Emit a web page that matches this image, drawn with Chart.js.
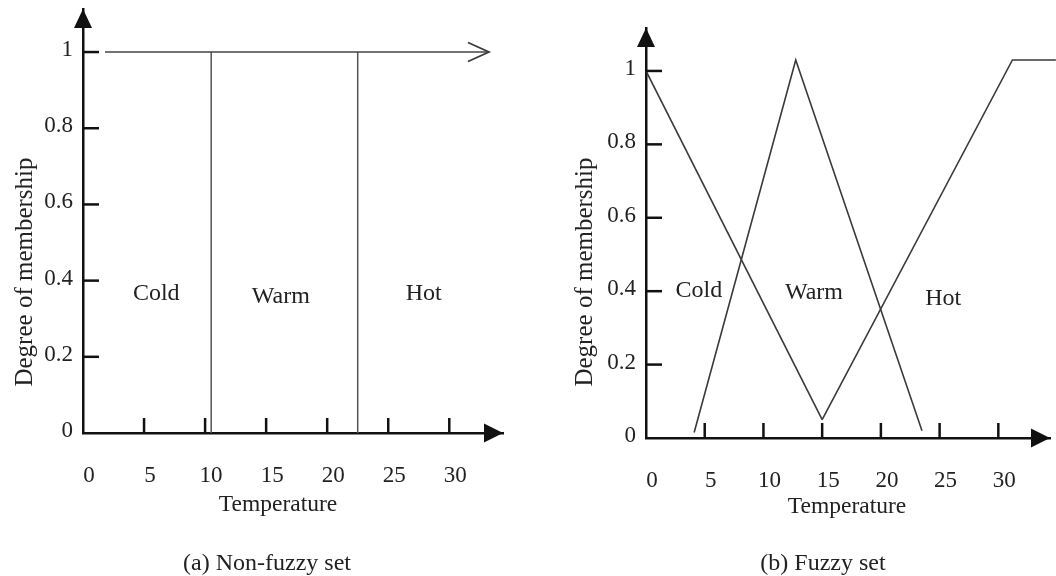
<!DOCTYPE html>
<html><head><meta charset="utf-8">
<script src="https://cdn.jsdelivr.net/npm/chart.js@4"></script>
<style>
html,body{margin:0;padding:0;background:#fff;}
#wrap{position:relative;width:1056px;height:576px;overflow:hidden;background:#fff;}
.box{position:absolute;top:0;width:528px;height:576px;}
#boxA{left:0}#boxB{left:528px}
.cap{position:absolute;top:548px;font-family:"Liberation Serif",serif;font-size:24px;line-height:28px;color:#222;white-space:nowrap;transform:translateX(-50%);}
</style></head>
<body><div id="wrap">
<div class="box" id="boxA"><canvas id="cA" width="528" height="576"></canvas></div>
<div class="box" id="boxB"><canvas id="cB" width="528" height="576"></canvas></div>
<div class="cap" style="left:267px">(a) Non-fuzzy set</div>
<div class="cap" style="left:823px">(b) Fuzzy set</div>
</div>
<script>
// ---- data ----
const xTickValues = [0, 5, 10, 15, 20, 25, 30];
const yTickValues = [0, 0.2, 0.4, 0.6, 0.8, 1];
const categories = ['Cold', 'Warm', 'Hot'];
const xTitle = 'Temperature';
const yTitle = 'Degree of membership';

// (a) non-fuzzy set
const crispTopX = [1.8, 33.25];
const crispTopY = [1, 1];
const crispBoundaryX = [10.5, 22.5];
const crispBoundaryY = [0, 1];
const crispLabelX = [6.0, 16.2, 27.9];
const crispLabelY = [0.365, 0.357, 0.365];

// (b) fuzzy set
const coldX = [0, 15.0];
const coldY = [1.0, 0.05];
const warmX = [4.1, 12.75, 23.5];
const warmY = [0.015, 1.03, 0.02];
const hotX = [15.0, 31.2, 34.9];
const hotY = [0.05, 1.03, 1.03];
const fuzzyLabelX = [4.5, 14.3, 25.3];
const fuzzyLabelY = [0.40, 0.395, 0.38];

const pts = (xs, ys) => xs.map((x, i) => ({x: x, y: ys[i]}));
const SERIF = '"Liberation Serif", "Times New Roman", serif';
const TXT = '#222';
const LINE = '#3a3a3a';

function lineDs(data, opts) {
  return Object.assign({data: data, showLine: true, pointRadius: 0, borderColor: LINE,
    borderWidth: 1.6, fill: false, tension: 0}, opts || {});
}

function scales(o) {
  return {
    x: {
      type: 'linear', min: 0, max: o.xMax,
      afterBuildTicks: s => { s.ticks = xTickValues.map(v => ({value: v})); },
      afterFit: s => { s.height = o.xH; s.paddingLeft = 0; s.paddingRight = 0; },
      grid: {display: true, drawOnChartArea: false, drawTicks: false},
      border: {display: true, color: '#111', width: 2.5},
      ticks: {font: {family: SERIF, size: 23}, color: TXT, padding: o.xPad, labelOffset: 6,
        maxRotation: 0, autoSkip: false, callback: v => String(v)}
    },
    y: {
      type: 'linear', min: 0, max: o.yMax,
      afterBuildTicks: s => { s.ticks = yTickValues.map(v => ({value: v})); },
      afterFit: s => { s.width = o.yW; s.paddingTop = 0; s.paddingBottom = 0; },
      grid: {display: true, drawOnChartArea: false, drawTicks: false},
      border: {display: true, color: '#111', width: 2.5},
      ticks: {font: {family: SERIF, size: 23}, color: TXT, padding: 10, labelOffset: -2,
        autoSkip: false, callback: v => String(v)}
    }
  };
}

const decor = {
  id: 'decor',
  afterDraw(chart, args, o) {
    const ctx = chart.ctx, a = chart.chartArea;
    const xs = chart.scales.x, ys = chart.scales.y;
    const x0 = xs.getPixelForValue(0), y0 = ys.getPixelForValue(0);
    ctx.save();
    // inward tick marks
    ctx.strokeStyle = '#111'; ctx.lineWidth = 2.5; ctx.lineCap = 'butt';
    xTickValues.forEach(v => {
      if (v === 0) return;
      const px = xs.getPixelForValue(v);
      ctx.beginPath(); ctx.moveTo(px, y0); ctx.lineTo(px, y0 - 15); ctx.stroke();
    });
    yTickValues.forEach(v => {
      if (v === 0) return;
      const py = ys.getPixelForValue(v);
      ctx.beginPath(); ctx.moveTo(x0, py); ctx.lineTo(x0 + 16, py); ctx.stroke();
    });
    // axis arrowheads
    ctx.fillStyle = '#111';
    ctx.beginPath(); ctx.moveTo(x0, a.top); ctx.lineTo(x0 - 9, a.top + 19); ctx.lineTo(x0 + 9, a.top + 19); ctx.closePath(); ctx.fill();
    ctx.beginPath(); ctx.moveTo(a.right, y0); ctx.lineTo(a.right - 19, y0 - 9.5); ctx.lineTo(a.right - 19, y0 + 9.5); ctx.closePath(); ctx.fill();
    // open arrow at end of a line
    if (o.openArrow) {
      const d = chart.data.datasets[o.openArrow.ds].data;
      const p = d[d.length - 1];
      const px = xs.getPixelForValue(p.x), py = ys.getPixelForValue(p.y);
      ctx.strokeStyle = LINE; ctx.lineWidth = 1.8;
      ctx.beginPath(); ctx.moveTo(px - 21, py - 9.5); ctx.lineTo(px, py); ctx.lineTo(px - 21, py + 9.5); ctx.stroke();
    }
    // category labels
    ctx.fillStyle = TXT; ctx.textAlign = 'center'; ctx.textBaseline = 'middle';
    ctx.font = '24px ' + SERIF;
    categories.forEach((c, i) => {
      ctx.fillText(c, xs.getPixelForValue(o.labX[i]), ys.getPixelForValue(o.labY[i]));
    });
    // axis titles
    ctx.font = '23.5px ' + SERIF;
    ctx.fillText(xTitle, o.xTitlePos[0], o.xTitlePos[1]);
    ctx.save();
    ctx.translate(o.yTitlePos[0], o.yTitlePos[1]); ctx.rotate(-Math.PI / 2);
    ctx.font = '25px ' + SERIF;
    ctx.fillText(yTitle, 0, 0);
    ctx.restore();
    ctx.restore();
  }
};

function makeChart(id, datasets, o, padding) {
  return new Chart(document.getElementById(id), {
    type: 'scatter',
    data: {datasets: datasets},
    options: {
      responsive: false, animation: false, devicePixelRatio: 1,
      layout: {padding: padding},
      plugins: {legend: {display: false}, tooltip: {enabled: false}, decor: o},
      scales: scales(o)
    },
    plugins: [decor]
  });
}

// (a) non-fuzzy
makeChart('cA', [
  lineDs(pts(crispTopX, crispTopY), {borderColor: '#444'}),
  ...crispBoundaryX.map(x => lineDs(pts([x, x], crispBoundaryY), {borderColor: '#555', borderWidth: 1.5}))
], {
  xMax: 34.4, yMax: 1.113, xH: 143, yW: 83, xPad: 29,
  labX: crispLabelX, labY: crispLabelY,
  openArrow: {ds: 0},
  xTitlePos: [278, 505], yTitlePos: [25, 272]
}, {left: 0, top: 9, right: 25, bottom: 0});

// (b) fuzzy
makeChart('cB', [
  lineDs(pts(coldX, coldY)),
  lineDs(pts(warmX, warmY)),
  lineDs(pts(hotX, hotY), {clip: false})
], {
  xMax: 34.4, yMax: 1.117, xH: 138, yW: 118, xPad: 29,
  labX: fuzzyLabelX, labY: fuzzyLabelY,
  xTitlePos: [319, 507], yTitlePos: [57, 272]
}, {left: 0, top: 28, right: 6, bottom: 0});
</script>
</body></html>
